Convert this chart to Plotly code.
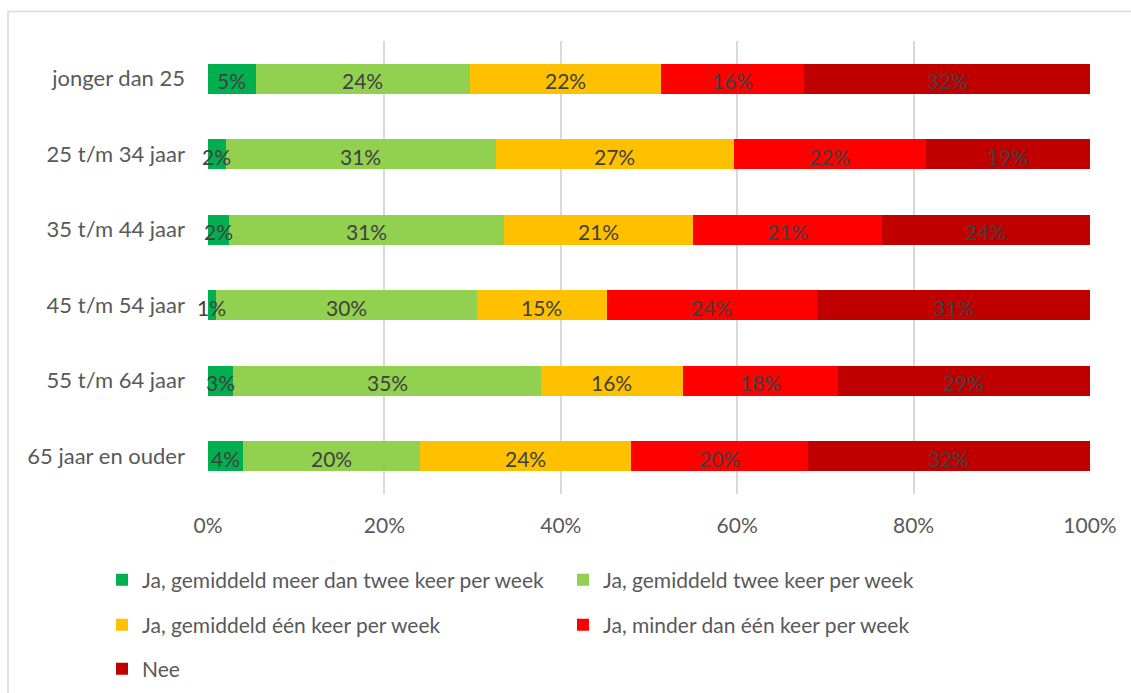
import plotly.graph_objects as go

# Leeftijdsgroepen (van boven naar beneden)
leeftijd = [
    "jonger dan 25",
    "25 t/m 34 jaar",
    "35 t/m 44 jaar",
    "45 t/m 54 jaar",
    "55 t/m 64 jaar",
    "65 jaar en ouder",
]

# Aandeel per antwoordcategorie (%)
meer_dan_twee = [5.4, 2.0, 2.4, 0.9, 2.8, 4.0]
twee_keer = [24.3, 30.6, 31.2, 29.6, 35.0, 20.0]
een_keer = [21.7, 27.0, 21.4, 14.7, 16.0, 24.0]
minder_dan_een = [16.2, 21.8, 21.4, 23.8, 17.6, 20.0]
nee = [32.4, 18.6, 23.6, 31.0, 28.6, 32.0]

# As-labels
x_ticks = [0, 20, 40, 60, 80, 100]
x_ticklabels = ["0%", "20%", "40%", "60%", "80%", "100%"]

FONT = "Lato"
W, H = 1131, 693

# naam, waarden, kleur, legenda, positie legenda-item (px links, px midden)
reeksen = [
    ("Ja, gemiddeld meer dan twee keer per week", meer_dan_twee, "#00B050", "legend", 102, 580),
    ("Ja, gemiddeld twee keer per week", twee_keer, "#92D050", "legend2", 563, 580),
    ("Ja, gemiddeld één keer per week", een_keer, "#FFC000", "legend3", 102, 625),
    ("Ja, minder dan één keer per week", minder_dan_een, "#FF0000", "legend4", 563, 625),
    ("Nee", nee, "#C00000", "legend5", 102, 669),
]

fig = go.Figure()
legendas = {}
for naam, waarden, kleur, leg, lx, ly in reeksen:
    fig.add_trace(go.Bar(
        y=leeftijd,
        x=waarden,
        name=naam,
        orientation="h",
        marker=dict(color=kleur, line=dict(width=0)),
        legend=leg,
        showlegend=True,
        hoverinfo="skip",
    ))
    legendas[leg] = dict(
        orientation="h",
        xref="container", yref="container",
        x=lx / W, y=1 - ly / H,
        xanchor="left", yanchor="middle",
        font=dict(family=FONT, size=21, color="#595959"),
        bgcolor="rgba(0,0,0,0)",
    )

# Waardelabels midden in elk segment, boven alle balken getekend zodat
# smalle segmenten hun label niet verliezen onder het volgende segment.
labels = []
links = [0.0] * len(leeftijd)
for naam, waarden, kleur, leg, lx, ly in reeksen:
    for cat, l, w in zip(leeftijd, links, waarden):
        labels.append(dict(
            x=l + w / 2, y=cat, xref="x", yref="y",
            text=f"{w:.0f}%",
            showarrow=False,
            yshift=-2,
            font=dict(family=FONT, size=21, color="#404040"),
        ))
    links = [l + w for l, w in zip(links, waarden)]

fig.update_layout(
    width=W, height=H,
    barmode="stack",
    bargap=0.6,
    showlegend=True,
    paper_bgcolor="white",
    plot_bgcolor="white",
    margin=dict(l=208, r=41, t=41, b=199),
    font=dict(family=FONT, size=21, color="#595959"),
    xaxis=dict(
        range=[0, 100],
        tickvals=x_ticks,
        ticktext=x_ticklabels,
        showgrid=True, gridcolor="#D9D9D9", gridwidth=1.5,
        zeroline=False, showline=False,
        ticks="", ticklabelstandoff=17,
        tickfont=dict(family=FONT, size=21, color="#595959"),
        fixedrange=True,
    ),
    yaxis=dict(
        autorange="reversed",
        showgrid=False, zeroline=False, showline=False,
        ticks="", ticklabelstandoff=22,
        tickfont=dict(family=FONT, size=22, color="#595959"),
        fixedrange=True,
    ),
    annotations=labels,
    shapes=[
        dict(
            type="rect", xref="paper", yref="paper",
            x0=(8 - 208) / 882, x1=1.2,
            y0=-0.6, y1=(494 - 11.5) / 453,
            line=dict(color="#D9D9D9", width=1.5),
            fillcolor="rgba(0,0,0,0)",
            layer="below",
        )
    ],
    **legendas,
)

fig.write_html("out.html")
